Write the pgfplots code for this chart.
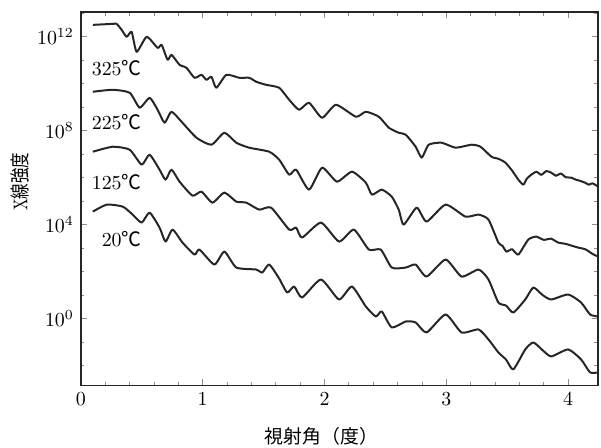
\documentclass[border=0pt]{standalone}
\usepackage{fontspec}
\usepackage{graphicx}
\usepackage{pgfplots}
\pgfplotsset{compat=1.18}
\newfontfamily\cjk{Noto Sans CJK JP}
\begin{document}
\begin{tikzpicture}
\useasboundingbox (-40.5bp,-31bp) rectangle (260.5bp,193bp);
\begin{axis}[at={(0,0)}, anchor=south west, scale only axis,
  width=259bp, height=187bp,
  xmin=0, xmax=4.245, ymin=-2.85, ymax=13.06,
  xtick={0,1,2,3,4}, minor x tick num=4,
  ytick={0,4,8,12}, yticklabels={$10^{0}$,$10^{4}$,$10^{8}$,$10^{12}$},
  minor ytick={-2,-1,1,2,3,5,6,7,9,10,11,13},
  tick align=inside, major tick length=3bp, minor tick length=1.8bp,
  axis line style={line width=0.8bp, black!85},
  tick style={black!45, line width=0.4bp},
  clip=true,
  curve/.style={black!85, line width=1bp, line join=round, mark=none, smooth, tension=0.35},
]
% 325 C
\addplot[curve] table {
x y
0.098 12.511
0.262 12.553
0.294 12.553
0.335 12.298
0.376 12.000
0.417 12.213
0.458 11.362
0.540 12.000
0.630 11.532
0.663 11.660
0.712 11.021
0.744 11.234
0.810 10.809
0.867 10.681
0.933 10.255
0.990 10.383
1.031 10.170
1.072 10.298
1.112 9.830
1.194 10.383
1.301 10.255
1.382 10.255
1.440 10.085
1.521 9.957
1.628 9.830
1.710 9.319
1.791 8.894
1.873 9.191
1.980 8.553
2.094 9.106
2.258 8.596
2.339 8.809
2.446 8.596
2.528 8.128
2.609 7.915
2.667 7.830
2.748 7.319
2.798 6.851
2.855 7.404
2.961 7.489
3.076 7.277
3.207 7.404
3.280 7.319
3.370 6.894
3.430 6.80
3.485 6.638
3.540 6.30
3.591 5.915
3.632 5.702
3.660 5.95
3.697 6.128
3.740 6.25
3.780 6.12
3.820 6.28
3.861 6.213
3.900 6.08
3.940 6.18
3.980 6.02
4.025 6.000
4.060 5.92
4.100 5.86
4.139 5.787
4.170 5.70
4.200 5.76
4.245 5.617
};
% 225 C
\addplot[curve] table {
x y
0.098 9.660
0.262 9.745
0.401 9.617
0.483 8.979
0.564 9.404
0.630 8.894
0.687 8.340
0.744 8.809
0.834 8.340
0.949 7.702
1.072 7.404
1.178 7.915
1.276 7.489
1.382 7.277
1.546 7.106
1.628 6.766
1.710 6.128
1.767 6.340
1.873 5.489
1.980 6.426
2.102 5.830
2.225 6.255
2.339 5.787
2.389 5.277
2.470 5.489
2.552 5.191
2.609 4.638
2.650 4.000
2.757 4.723
2.838 4.128
2.994 4.851
3.157 4.340
3.264 4.426
3.346 4.213
3.427 3.234
3.460 3.10
3.493 2.851
3.540 2.95
3.591 2.723
3.673 3.362
3.738 3.489
3.800 3.35
3.860 3.40
3.918 3.234
3.980 3.18
4.030 3.10
4.082 3.021
4.140 2.95
4.200 2.75
4.245 2.638
};
% 125 C
\addplot[curve] table {
x y
0.098 7.106
0.262 7.319
0.401 7.191
0.499 6.553
0.564 6.979
0.646 6.340
0.695 5.915
0.744 6.340
0.810 5.830
0.916 5.234
0.990 5.404
1.080 4.936
1.178 5.362
1.276 4.979
1.358 4.936
1.464 4.638
1.562 4.723
1.710 3.787
1.767 3.872
1.816 3.447
1.971 4.085
2.119 3.277
2.241 3.787
2.364 2.936
2.462 2.936
2.552 2.170
2.667 2.170
2.748 2.298
2.838 1.787
2.994 2.511
3.125 1.787
3.264 2.085
3.346 1.660
3.427 0.681
3.490 0.55
3.550 0.255
3.648 0.809
3.714 1.319
3.790 1.00
3.861 0.809
4.000 1.021
4.106 0.681
4.180 0.170
4.245 0.085
};
% 20 C
\addplot[curve] table {
x y
0.098 4.553
0.213 4.851
0.344 4.766
0.425 4.426
0.499 4.085
0.564 4.511
0.646 3.872
0.695 3.277
0.753 3.787
0.834 3.234
0.933 2.723
0.973 2.936
1.096 2.298
1.178 2.851
1.276 2.170
1.440 2.085
1.489 1.957
1.546 2.298
1.628 1.702
1.693 1.106
1.751 1.362
1.816 0.894
1.971 1.660
2.119 0.809
2.225 1.362
2.339 0.511
2.421 0.085
2.470 0.298
2.552 -0.383
2.667 -0.128
2.748 -0.170
2.838 -0.596
2.994 0.170
3.125 -0.596
3.264 -0.468
3.346 -0.894
3.427 -1.447
3.490 -1.75
3.550 -2.170
3.648 -1.319
3.714 -1.021
3.790 -1.35
3.861 -1.617
4.000 -1.319
4.106 -1.745
4.180 -2.298
4.245 -2.298
};
\node at (axis cs:0.294,10.68) {325{\cjk ℃}};
\node at (axis cs:0.294,8.38) {225{\cjk ℃}};
\node at (axis cs:0.294,5.79) {125{\cjk ℃}};
\node at (axis cs:0.335,3.36) {20{\cjk ℃}};
\end{axis}
\node[font=\fontsize{9.5}{11}\selectfont] at (120.5bp,-25.5bp) {\cjk 視射角（度）};
\node[rotate=90, font=\fontsize{10}{12}\selectfont] at (-30.5bp,102bp) {\scalebox{0.78}[1]{X{\cjk 線強度}}};
\end{tikzpicture}
\end{document}
